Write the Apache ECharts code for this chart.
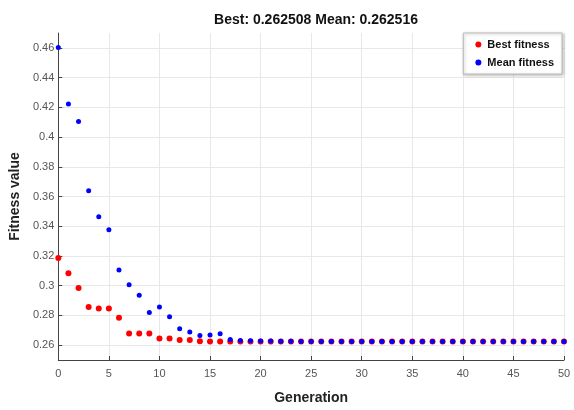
<!DOCTYPE html>
<html>
<head>
<meta charset="utf-8">
<script src="https://cdn.jsdelivr.net/npm/echarts@6/dist/echarts.min.js"></script>
<style>html,body{margin:0;padding:0;background:#fff;}#c{width:574px;height:410px;}</style>
</head>
<body>
<div id="c"></div>
<script>
const generations = Array.from({length: 51}, (_, i) => i);
const bestFitness = [0.3187, 0.3084, 0.2985, 0.2857, 0.2846, 0.2846, 0.2785, 0.2679, 0.2679, 0.2679,
  0.2644, 0.2644, 0.2635, 0.2634, 0.2626, 0.2625, 0.2625, 0.2625, 0.2625, 0.2625,
  0.2625, 0.2625, 0.2625, 0.2625, 0.2625, 0.2625, 0.2625, 0.2625, 0.2625, 0.2625,
  0.2625, 0.2625, 0.2625, 0.2625, 0.2625, 0.2625, 0.2625, 0.2625, 0.2625, 0.2625,
  0.2625, 0.2625, 0.2625, 0.2625, 0.2625, 0.2625, 0.2625, 0.2625, 0.2625, 0.2625, 0.2625];
const meanFitness = [0.4602, 0.4222, 0.4105, 0.3638, 0.3463, 0.3377, 0.3106, 0.3007, 0.2935, 0.2820,
  0.2857, 0.2791, 0.2710, 0.2688, 0.2664, 0.2668, 0.2677, 0.2638, 0.2631, 0.2630,
  0.2628, 0.2627, 0.2626, 0.2626, 0.2625, 0.2625, 0.2625, 0.2625, 0.2625, 0.2625,
  0.2625, 0.2625, 0.2625, 0.2625, 0.2625, 0.2625, 0.2625, 0.2625, 0.2625, 0.2625,
  0.2625, 0.2625, 0.2625, 0.2625, 0.2625, 0.2625, 0.2625, 0.2625, 0.2625, 0.2625, 0.2625];
const yTicks = [0.26, 0.28, 0.30, 0.32, 0.34, 0.36, 0.38, 0.40, 0.42, 0.44, 0.46];
const titleText = 'Best: 0.262508 Mean: 0.262516';

const sans = '"Liberation Sans", Arial, sans-serif';
const chart = echarts.init(document.getElementById('c'), null, {renderer: 'canvas'});
chart.setOption({
  animation: false,
  backgroundColor: '#fff',
  title: {
    text: titleText, left: 311, textAlign: 'center', top: 8,
    textStyle: {fontFamily: sans, fontWeight: 'bold', fontSize: 14, color: '#111'}
  },
  legend: {
    orient: 'vertical', right: 12, top: 33,
    backgroundColor: '#fff', borderColor: '#bcbcbc', borderWidth: 1,
    shadowColor: 'rgba(0,0,0,0.25)', shadowBlur: 3, shadowOffsetX: 1, shadowOffsetY: 1,
    padding: [6, 8, 6, 12], itemGap: 7, itemWidth: 6, itemHeight: 6,
    textStyle: {fontFamily: sans, fontWeight: 'bold', fontSize: 11, color: '#111', padding: [0,0,0,1]},
    data: [{name: 'Best fitness', icon: 'circle'}, {name: 'Mean fitness', icon: 'circle'}]
  },
  grid: {left: 58, right: 10, top: 33, bottom: 46, containLabel: false},
  xAxis: {
    type: 'value', min: 0, max: 50, interval: 5,
    name: 'Generation', nameLocation: 'middle', nameGap: 31,
    nameTextStyle: {fontFamily: sans, fontWeight: 'bold', fontSize: 14, color: '#222'},
    axisLine: {show: true, onZero: false, lineStyle: {color: '#444', width: 1}},
    axisTick: {show: true, inside: true, length: 4, lineStyle: {color: '#444'}},
    axisLabel: {fontFamily: sans, fontSize: 11, color: '#555', margin: 8},
    splitLine: {show: true, lineStyle: {color: '#e8e8e8', width: 1}}
  },
  yAxis: {
    type: 'value', min: 0.25, max: 0.47,
    name: 'Fitness value', nameLocation: 'middle', nameGap: 28, nameRotate: 90,
    nameTextStyle: {fontFamily: sans, fontWeight: 'bold', fontSize: 14, color: '#222'},
    axisLine: {show: true, onZero: false, lineStyle: {color: '#444', width: 1}},
    axisTick: {show: true, inside: true, length: 4, lineStyle: {color: '#444'}, customValues: yTicks},
    axisLabel: {fontFamily: sans, fontSize: 11, color: '#555', margin: 4, customValues: yTicks,
      formatter: v => String(parseFloat(v.toFixed(2)))},
    splitLine: {show: true, lineStyle: {color: '#e8e8e8', width: 1}}
  },
  series: [
    {
      name: 'Best fitness', type: 'scatter', symbol: 'circle', symbolSize: 6,
      itemStyle: {color: '#ff0000', opacity: 1},
      data: generations.map((g, i) => [g, bestFitness[i]]), z: 2
    },
    {
      name: 'Mean fitness', type: 'scatter', symbol: 'circle', symbolSize: 5,
      itemStyle: {color: '#0000ff', opacity: 1},
      data: generations.map((g, i) => [g, meanFitness[i]]), z: 3
    }
  ]
});
</script>
</body>
</html>
